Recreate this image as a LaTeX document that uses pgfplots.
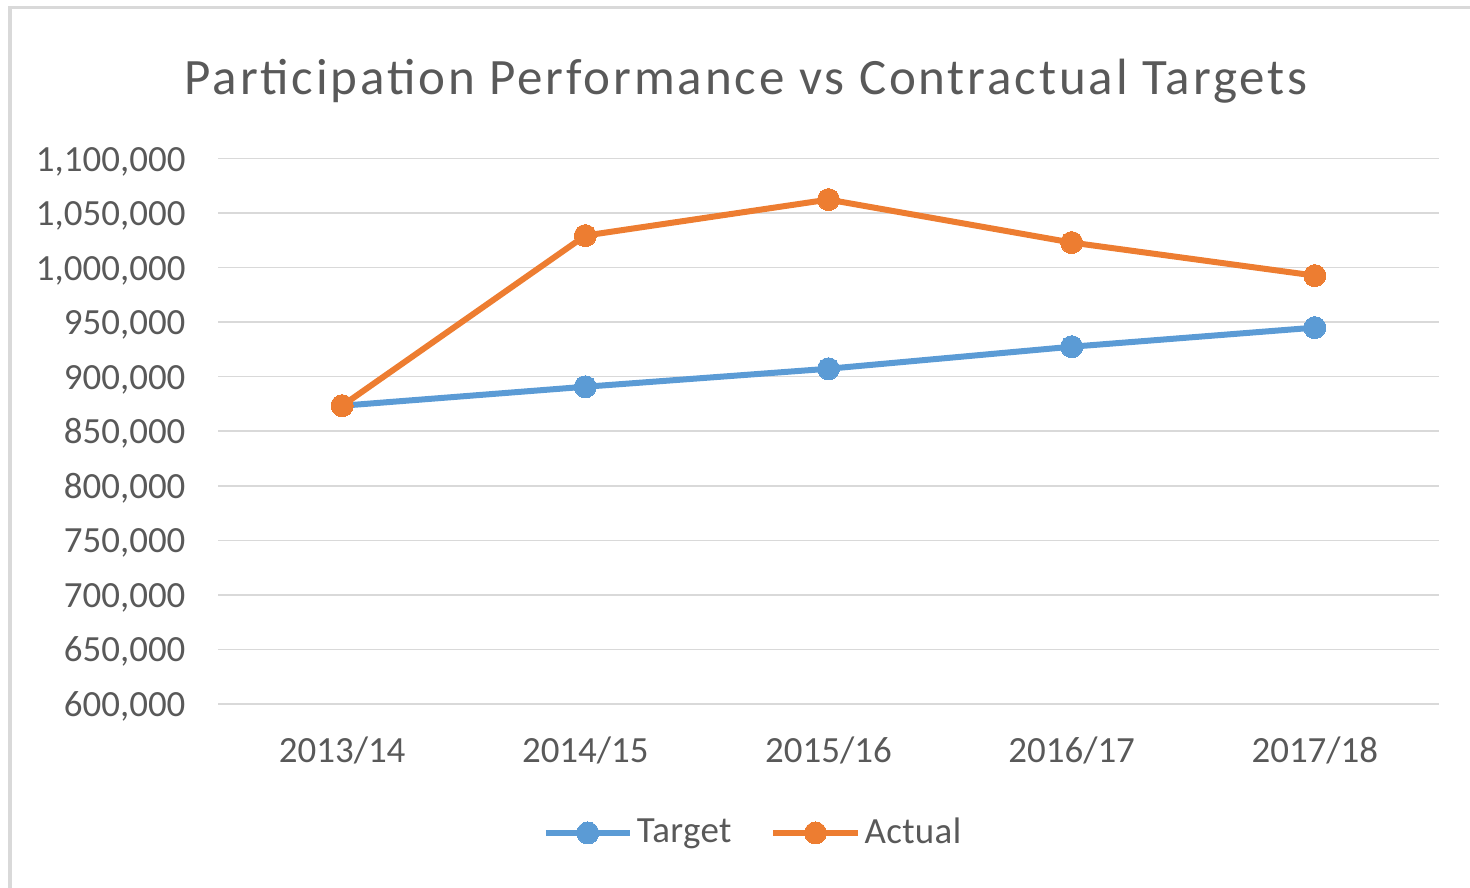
\documentclass[border=0pt]{standalone}
\usepackage{fontspec}
\setmainfont{Carlito}
\usepackage{pgfplots}
\pgfplotsset{compat=1.18}
\definecolor{tblue}{HTML}{5B9BD5}
\definecolor{torange}{HTML}{ED7D31}
\definecolor{tgrid}{HTML}{D9D9D9}
\definecolor{ttext}{HTML}{595959}
\begin{document}
\begin{tikzpicture}[x=0.01cm,y=0.01cm]
\useasboundingbox (0,0) rectangle (1470,887);
\draw[tgrid, line width=0.03cm] (10,-5) -- (10,879) -- (1475,879);
\node[anchor=base, text=ttext, inner sep=0pt, font=\fontsize{14.5}{17}\selectfont\addfontfeatures{LetterSpace=5.6}] at (746,792) {Participation Performance vs Contractual Targets};
\begin{axis}[
  at={(2.18cm,1.83cm)}, anchor=south west,
  width=12.20cm, height=5.45cm, scale only axis,
  xmin=-0.51, xmax=4.51, ymin=600000, ymax=1100000,
  clip=false,
  axis line style={draw=none},
  tick style={draw=none},
  ymajorgrids, grid style={tgrid, line width=0.015cm},
  xtick={0,1,2,3,4},
  xticklabels={2013/14,2014/15,2015/16,2016/17,2017/18},
  ytick={600000,650000,...,1100000},
  scaled y ticks=false,
  /pgf/number format/.cd, fixed, 1000 sep={,}, assume math mode=true,
  /pgfplots/.cd,
  tick label style={text=ttext, font=\fontsize{10.5}{13}\selectfont},
  yticklabel style={anchor=base east, inner sep=0pt, xshift=-0.32cm, yshift=-0.125cm},
  xticklabel style={anchor=base, inner sep=0pt, yshift=-0.59cm},
  legend style={at={(0.439,-0.2367)}, anchor=center, draw=none, fill=none,
    legend columns=2, text=ttext, font=\fontsize{10.5}{13}\selectfont\addfontfeatures{LetterSpace=1},
    nodes={inner sep=0.04cm},
    /tikz/every even column/.append style={column sep=0.35cm}},
  legend image code/.code={\draw[#1, mark repeat=2, mark phase=2] plot coordinates {(0cm,0cm) (0.42cm,0cm) (0.84cm,0cm)};},
]
\addplot[tblue, line width=0.06cm, mark=*, mark size=0.11cm, mark options={solid, fill=tblue, draw=tblue, line width=0pt}]
  coordinates {(0,873400) (1,890800) (2,907300) (3,927500) (4,945000)};
\addlegendentry{Target}
\addplot[torange, line width=0.06cm, mark=*, mark size=0.11cm, mark options={solid, fill=torange, draw=torange, line width=0pt}]
  coordinates {(0,873400) (1,1029400) (2,1062400) (3,1023000) (4,992700)};
\addlegendentry{Actual}
\end{axis}
\end{tikzpicture}
\end{document}
